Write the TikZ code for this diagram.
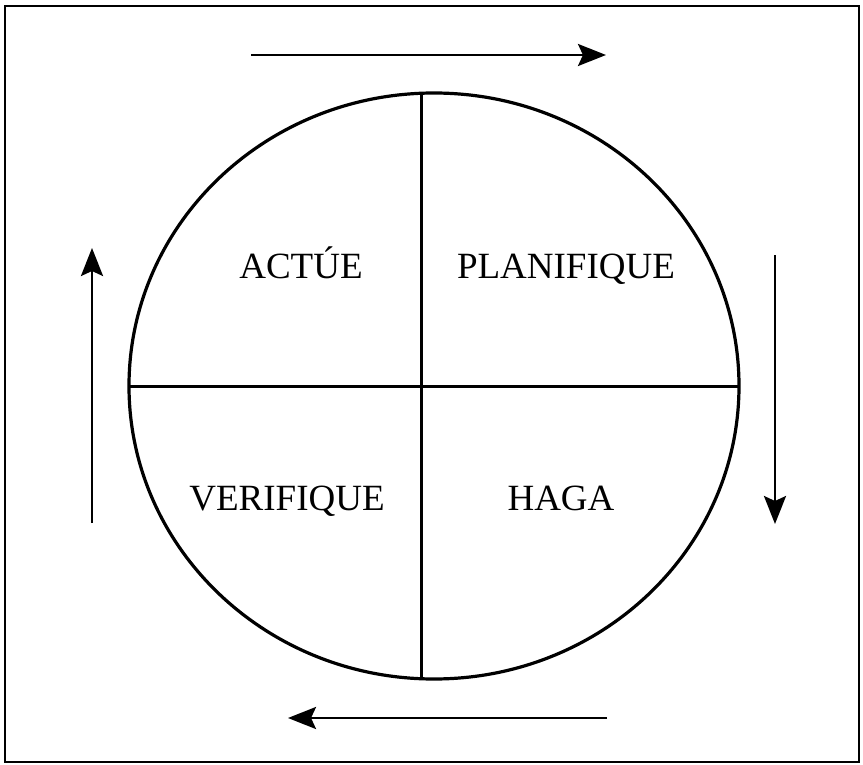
\documentclass[tikz,border=0pt]{standalone}
\usepackage{fontspec}
\setmainfont{Liberation Serif}
\usetikzlibrary{arrows.meta}
\begin{document}
\begin{tikzpicture}[x=1pt,y=-1pt,
  flow/.style={line width=2.8pt,-{Stealth[length=28pt,width=22pt,inset=5pt]}},
  quad/.style={font=\fontsize{37}{40}\selectfont,anchor=base,inner sep=0pt},
  divider/.style={line width=3pt}]
\useasboundingbox (0,0) rectangle (863,765);
\draw[line width=2pt] (5,6) rectangle (859,762);
\draw[line width=3.2pt] (434,386) ellipse [x radius=305pt, y radius=293pt];
\coordinate (vt) at (421,93);
\coordinate (vb) at (421,679);
\coordinate (hl) at (129,386);
\coordinate (hr) at (739,386);
\draw[divider] (vt) -- (vb);
\draw[divider] (hl) -- (hr);
\node[quad] (actue) at (301,278) {ACTÚE};
\node[quad] (plan) at (566,278) {PLANIFIQUE};
\node[quad] (verif) at (287,510) {VERIFIQUE};
\node[quad] (haga) at (561,510) {HAGA};
\coordinate (ta) at (251,55);
\coordinate (tb) at (606,55);
\coordinate (ra) at (775,255);
\coordinate (rb) at (775,524);
\coordinate (ba) at (607,718);
\coordinate (bb) at (288,718);
\coordinate (la) at (92,523);
\coordinate (lb) at (92,248);
\draw[flow] (ta) -- (tb);
\draw[flow] (ra) -- (rb);
\draw[flow] (ba) -- (bb);
\draw[flow] (la) -- (lb);
\end{tikzpicture}
\end{document}
